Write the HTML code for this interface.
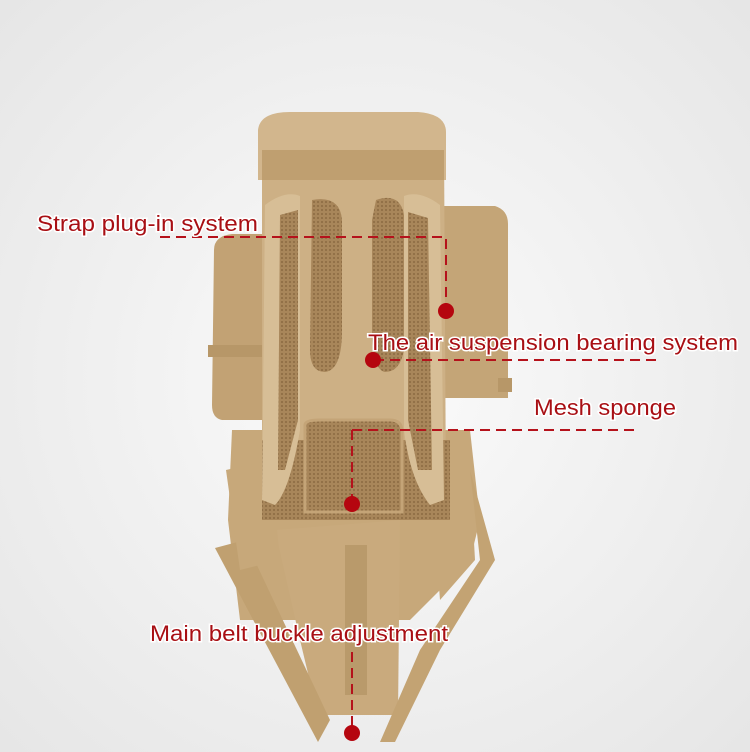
<!DOCTYPE html>
<html><head><meta charset="utf-8"><style>
html,body{margin:0;padding:0;width:750px;height:752px;overflow:hidden;background:#f2f2f2}
svg{display:block}
text{font-family:"Liberation Sans","DejaVu Sans",sans-serif;font-size:22px;fill:#a80f14;stroke:#fff;stroke-width:3px;paint-order:stroke;}
</style></head><body>
<svg width="750" height="752" viewBox="0 0 750 752">
<defs>
<radialGradient id="bg" cx="0.5" cy="0.5" r="0.7"><stop offset="0" stop-color="#fbfbfb"/><stop offset="1" stop-color="#e6e6e6"/></radialGradient>
<pattern id="mesh" width="4" height="4" patternUnits="userSpaceOnUse"><rect width="4" height="4" fill="#a8865a"/><circle cx="2" cy="2" r="1" fill="#8a6a42"/></pattern>
</defs>
<rect width="750" height="752" fill="url(#bg)"/>
<path d="M214 250 Q214 236 232 234 L262 234 L262 420 L222 420 Q212 418 212 405 Z" fill="#c2a274"/>
<path d="M440 206 L495 206 Q508 210 508 224 L508 398 L440 398 Z" fill="#c4a577"/>
<rect x="208" y="345" width="60" height="12" fill="#b79768"/>
<rect x="498" y="378" width="14" height="14" fill="#b79768"/>
<path d="M232 430 L470 430 L480 520 L470 560 L410 620 L240 620 L228 520 Z" fill="#c7a87a"/>
<path d="M262 140 L444 140 L446 500 L262 500 Z" fill="#cdb085"/>
<path d="M258 130 Q260 112 290 112 L418 112 Q446 114 446 132 L446 180 L258 180 Z" fill="#d2b68d"/>
<path d="M262 150 L444 150 L444 180 L262 180 Z" fill="#bf9f70"/>
<path d="M275 530 L400 520 L398 715 L318 715 L300 640 Z" fill="#c9aa7d"/>
<rect x="345" y="545" width="22" height="150" fill="#b99a6b"/>
<path d="M215 548 L245 540 L330 720 L318 742 Z" fill="#c0a070"/>
<path d="M470 470 L480 560 L420 650 L380 742 L395 742 L440 650 L495 560 Z" fill="#c3a373"/>
<path d="M226 470 L270 460 L280 560 L240 570 Z" fill="#c7a87a"/>
<path d="M430 470 L470 470 L475 560 L440 600 Z" fill="#c7a87a"/>
<path d="M262 440 L450 440 L450 520 L262 520 Z" fill="url(#mesh)"/>
<path d="M305 425 Q305 420 320 420 L390 420 Q402 420 402 432 L402 512 L305 512 Z" fill="url(#mesh)" stroke="#c4a477" stroke-width="3"/>
<path d="M265 205 Q285 190 300 196 L300 430 Q290 490 275 505 L262 500 Z" fill="#d7be96"/>
<path d="M280 215 L298 210 L298 420 L285 470 L278 470 Z" fill="url(#mesh)"/>
<path d="M404 196 Q420 190 440 205 L444 500 L430 505 Q410 480 404 430 Z" fill="#d7be96"/>
<path d="M408 212 L428 218 L432 470 L418 470 L408 420 Z" fill="url(#mesh)"/>
<path d="M312 200 Q340 195 342 220 L342 330 Q342 370 325 372 Q310 372 310 350 Z" fill="url(#mesh)"/>
<path d="M376 200 Q400 192 404 215 L404 350 Q400 372 385 372 Q374 370 372 340 L372 220 Z" fill="url(#mesh)"/>
<g fill="none" stroke="#b5121b" stroke-width="2" stroke-dasharray="10 6">
<path d="M160 237 L446 237 L446 311"/>
<path d="M374 360 L660 360"/>
<path d="M352 430 L640 430"/>
<path d="M352 430 L352 503"/>
<path d="M352 652 L352 733"/>
</g>
<g fill="#b5060f">
<circle cx="446" cy="311" r="8"/>
<circle cx="373" cy="360" r="8"/>
<circle cx="352" cy="504" r="8"/>
<circle cx="352" cy="733" r="8"/>
</g>
<text x="37" y="231" textLength="221" lengthAdjust="spacingAndGlyphs">Strap plug-in system</text>
<text x="368" y="350" textLength="370" lengthAdjust="spacingAndGlyphs">The air suspension bearing system</text>
<text x="534" y="415" textLength="142" lengthAdjust="spacingAndGlyphs">Mesh sponge</text>
<text x="150" y="641" textLength="298" lengthAdjust="spacingAndGlyphs">Main belt buckle adjustment</text>
</svg>
</body></html>
